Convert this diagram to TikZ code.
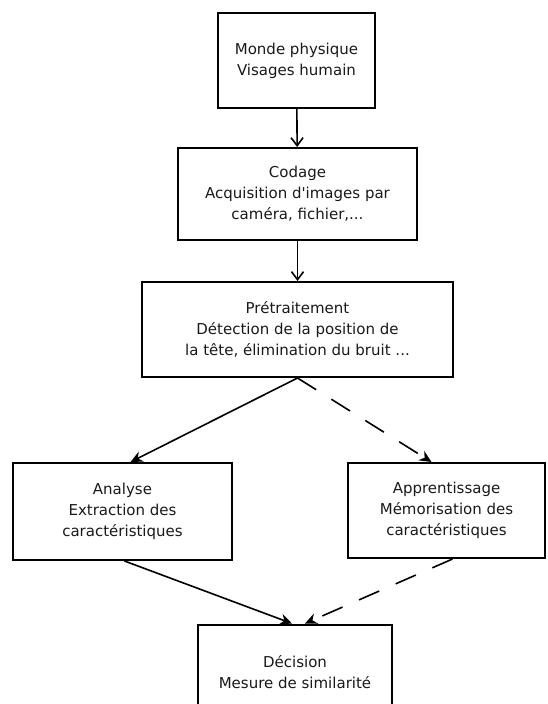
\documentclass[tikz,border=0pt]{standalone}
\usepackage{fontspec}
\setmainfont{DejaVu Sans}[Ligatures=TeXOff]
\usepackage{tikz}
\usetikzlibrary{arrows.meta, positioning}

\begin{document}
\begin{tikzpicture}[
        x=1pt, y=-1pt,
        etape/.style={rectangle, draw=black, line width=2pt, align=center, inner sep=0pt, text=black!90, font=\fontsize{15}{21}\selectfont},
        flux/.style={-{Straight Barb[length=8pt, width=12pt]}, line width=1.6pt},
        fluxdiag/.style={-{Stealth[length=12pt, width=11pt]}, line width=1.6pt},
        fluxmem/.style={fluxdiag, dash pattern=on 22pt off 18pt},
    ]
        \useasboundingbox (0,0) rectangle (547,704);
        \clip (0,0) rectangle (547,704);

        \node[etape] (monde) at (296.5,60.5) [minimum width=157pt, minimum height=95pt] {Monde physique\\Visages humain};
        \node[etape] (codage) at (297.5,194) [minimum width=239pt, minimum height=92pt] {Codage\\Acquisition d'images par\\caméra, fichier,...};
        \node[etape] (pretrait) at (297.5,329.5) [minimum width=311pt, minimum height=95pt] {Prétraitement\\Détection de la position de\\la tête, élimination du bruit ...};
        \node[etape] (analyse) at (122.5,511.5) [minimum width=219pt, minimum height=97pt] {Analyse\\Extraction des\\caractéristiques};
        \node[etape] (apprent) at (446.5,510.5) [minimum width=197pt, minimum height=95pt] {Apprentissage\\Mémorisation des\\caractéristiques};
        \node[etape] (decision) at (295,672) [minimum width=194pt, minimum height=95pt] {Décision\\Mesure de similarité};

        \draw[flux] (monde) -- (codage);
        \draw[flux] (codage) -- (pretrait);
        \draw[fluxdiag] (pretrait.south) -- ([xshift=8pt]analyse.north);
        \draw[fluxmem] (pretrait.south) -- ([xshift=-15pt]apprent.north);
        \draw[fluxdiag] ([xshift=2pt]analyse.south) -- ([xshift=-3pt]decision.north);
        \draw[fluxmem] ([xshift=6pt]apprent.south) -- ([xshift=10pt]decision.north);
    \end{tikzpicture}
\end{document}
